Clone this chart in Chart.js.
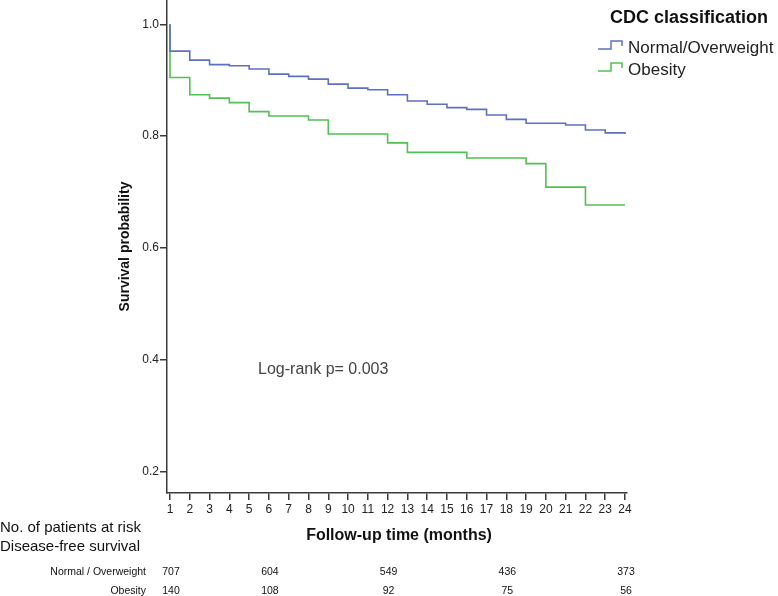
<!DOCTYPE html>
<html>
<head>
<meta charset="utf-8">
<script src="https://cdn.jsdelivr.net/npm/chart.js@4.4.1/dist/chart.umd.min.js"></script>
<style>
  html, body { margin: 0; padding: 0; background: #fff; }
  #wrap { width: 778px; height: 596px; position: relative; }
</style>
</head>
<body>
<div id="wrap"><canvas id="kmChart" width="778" height="596"></canvas></div>
<script>
// 生存曲线数据 (Kaplan-Meier, 按月)
const months = [1,2,3,4,5,6,7,8,9,10,11,12,13,14,15,16,17,18,19,20,21,22,23,24];
const normalSurv = [0.952,0.936,0.928,0.926,0.920,0.911,0.907,0.902,0.893,0.886,0.883,0.874,
                    0.863,0.857,0.851,0.848,0.838,0.830,0.823,0.823,0.820,0.811,0.806,0.804];
const obesitySurv = [0.905,0.874,0.868,0.860,0.844,0.836,0.836,0.829,0.804,0.804,0.804,0.788,
                     0.771,0.771,0.771,0.761,0.761,0.761,0.751,0.709,0.709,0.677,0.677,0.677];
const yTicks = [0.2, 0.4, 0.6, 0.8, 1.0];

// 风险人数表
const groups = ['Normal / Overweight', 'Obesity'];
const legendLabels = ['Normal/Overweight', 'Obesity'];
const riskMonths = [1, 6, 12, 18, 24];
const riskNormal = [707, 604, 549, 436, 373];
const riskObesity = [140, 108, 92, 75, 56];

const blue = '#5d70c2';
const green = '#52c052';
const axisColor = '#3a3a3a';
const FONT = '"Liberation Sans", Arial, sans-serif';

const toSteps = (vals) => [{x: months[0], y: 1.0}].concat(vals.map((v, i) => ({x: months[i], y: v})));

// 自定义图例 + 风险表 + 文字
const extrasPlugin = {
  id: 'extras',
  afterDraw(chart) {
    const ctx = chart.ctx;
    const xs = chart.scales.x, ys = chart.scales.y;
    ctx.save();
    ctx.fillStyle = '#111';
    ctx.textBaseline = 'middle';

    // 图例标题
    ctx.font = 'bold 18px ' + FONT;
    ctx.textAlign = 'left';
    ctx.fillText('CDC classification', 610, 18);

    // 图例项 (阶梯图标)
    [blue, green].forEach((c, i) => {
      const y0 = 49 + i * 22;
      ctx.strokeStyle = c;
      ctx.lineWidth = 1.5;
      ctx.beginPath();
      ctx.moveTo(598, y0);
      ctx.lineTo(611, y0);
      ctx.lineTo(611, y0 - 8);
      ctx.lineTo(622, y0 - 8);
      ctx.lineTo(622, y0 - 3);
      ctx.stroke();
      ctx.fillStyle = '#222';
      ctx.font = '17px ' + FONT;
      ctx.fillText(legendLabels[i], 628, y0 - 1);
    });

    // x 轴标题
    ctx.fillStyle = '#111';
    ctx.font = 'bold 16px ' + FONT;
    ctx.textAlign = 'center';
    ctx.fillText('Follow-up time (months)', 399, 536);

    // Log-rank
    ctx.textAlign = 'left';
    ctx.fillStyle = '#444';
    ctx.font = '16px ' + FONT;
    ctx.fillText('Log-rank p= 0.003', xs.getPixelForValue(5.45), ys.getPixelForValue(0.382));

    // 风险表
    ctx.fillStyle = '#111';
    ctx.font = '15px ' + FONT;
    ctx.fillText('No. of patients at risk', 0, 528);
    ctx.fillText('Disease-free survival', 0, 547);

    ctx.font = '10.5px ' + FONT;
    ctx.textAlign = 'right';
    ctx.fillText(groups[0], 146, 572);
    ctx.fillText(groups[1], 146, 591);
    ctx.textAlign = 'center';
    riskMonths.forEach((m, i) => {
      const px = xs.getPixelForValue(m) + 1;
      ctx.fillText(String(riskNormal[i]), px, 572);
      ctx.fillText(String(riskObesity[i]), px, 591);
    });
    ctx.restore();
  }
};

new Chart(document.getElementById('kmChart'), {
  type: 'line',
  data: {
    datasets: [{
      label: legendLabels[0],
      data: toSteps(normalSurv),
      borderColor: blue,
      borderWidth: 1.6,
      stepped: 'before',
      pointRadius: 0,
      fill: false
    }, {
      label: legendLabels[1],
      data: toSteps(obesitySurv),
      borderColor: green,
      borderWidth: 1.6,
      stepped: 'before',
      pointRadius: 0,
      fill: false
    }]
  },
  options: {
    responsive: false,
    animation: false,
    layout: { padding: { left: 113, right: 151, top: 0, bottom: 0 } },
    plugins: { legend: { display: false }, tooltip: { enabled: false } },
    scales: {
      x: {
        type: 'linear',
        min: 0.848,
        max: 24.1,
        afterBuildTicks: (s) => { s.ticks = months.map(v => ({value: v})); },
        afterFit: (s) => { s.height = 103; },
        grid: { drawOnChartArea: false, drawTicks: true, tickLength: 7, color: axisColor, lineWidth: 1.5 },
        border: { display: true, color: axisColor, width: 1.5 },
        ticks: { color: '#222', font: { family: FONT, size: 12 }, padding: 2, maxRotation: 0, autoSkip: false },
        title: { display: false }
      },
      y: {
        min: 0.162,
        max: 1.0435,
        afterBuildTicks: (s) => { s.ticks = yTicks.map(v => ({value: v})); },
        afterFit: (s) => { s.width = 54; s.paddingTop = 0; s.paddingBottom = 0; },
        grid: { drawOnChartArea: false, drawTicks: true, tickLength: 7, color: axisColor, lineWidth: 1.5 },
        border: { display: true, color: axisColor, width: 1.5 },
        ticks: { color: '#222', font: { family: FONT, size: 12 }, padding: 1, callback: (v) => v.toFixed(1) },
        title: {
          display: true,
          text: 'Survival probability',
          color: '#111',
          font: { family: FONT, size: 14, weight: 'bold' },
          padding: { top: 4, bottom: 0 }
        }
      }
    }
  },
  plugins: [extrasPlugin]
});
</script>
</body>
</html>
